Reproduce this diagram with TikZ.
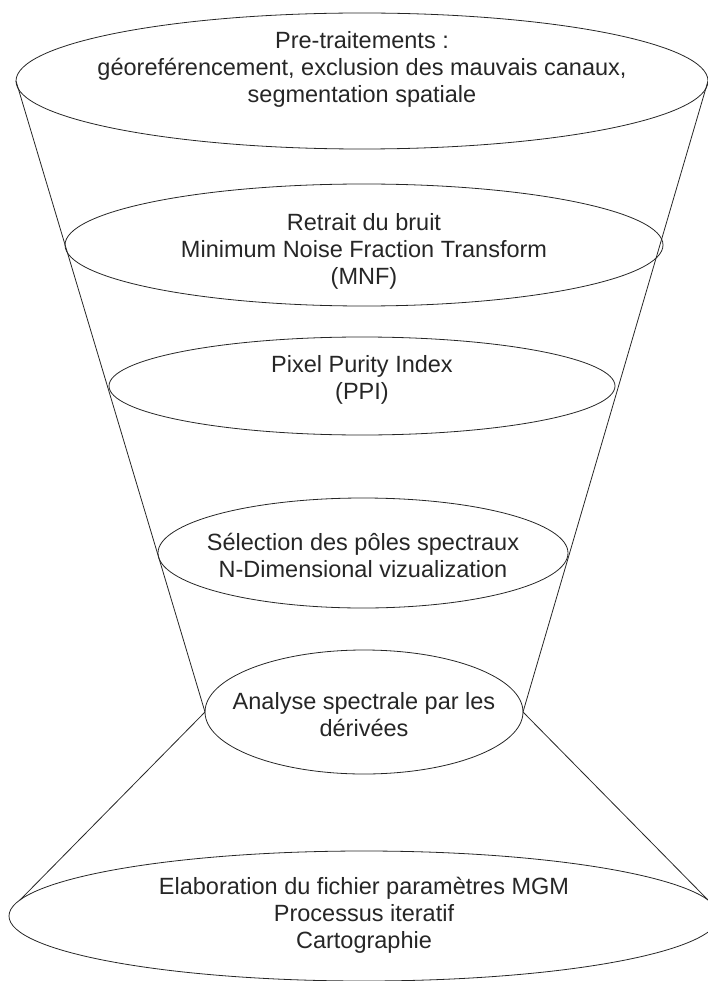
\documentclass[tikz,border=0pt]{standalone}
\usepackage{fontspec}
\setmainfont{Liberation Sans}
\usetikzlibrary{shapes.geometric}
\begin{document}
\begin{tikzpicture}[x=1pt,y=-1pt,
  stage/.style={draw=black!85, line width=0.8pt, ellipse, inner sep=0pt, outer sep=0pt},
  label/.style={align=center, inner sep=0pt, text=black!85, font=\fontsize{23.5}{27}\selectfont},
  funnel/.style={draw=black!85, line width=0.8pt}]
\useasboundingbox (0,0) rectangle (708,981);
\clip (0,0) rectangle (708,981);
\node[stage, minimum width=692pt, minimum height=136pt] (e1) at (362,81) {};
\node[stage, minimum width=598pt, minimum height=122pt] (e2) at (364,245) {};
\node[stage, minimum width=506pt, minimum height=98pt] (e3) at (362,386) {};
\node[stage, minimum width=410pt, minimum height=110pt] (e4) at (363,553) {};
\node[stage, minimum width=318pt, minimum height=124pt] (e5) at (364,712) {};
\node[stage, minimum width=710pt, minimum height=130pt] (e6) at (364,916) {};
\coordinate (bl) at (20,900);
\coordinate (br) at (708,900);
\draw[funnel] (e1.west) -- (e5.west) -- (bl);
\draw[funnel] (e1.east) -- (e5.east) -- (br);
\node[label] (t1) at (362,69) {Pre-traitements :\\g\'eoref\'erencement, exclusion des mauvais canaux,\\segmentation spatiale};
\node[label] (t2) at (364,251) {Retrait du bruit\\Minimum Noise Fraction Transform\\(MNF)};
\node[label] (t3) at (362,380) {Pixel Purity Index\\(PPI)};
\node[label] (t4) at (363,555) {S\'election des p\^oles spectraux\\N-Dimensional vizualization};
\node[label] (t5) at (364,715) {Analyse spectrale par les\\d\'eriv\'ees};
\node[label] (t6) at (364,915) {Elaboration du fichier param\`etres MGM\\Processus iteratif\\Cartographie};
\end{tikzpicture}
\end{document}
